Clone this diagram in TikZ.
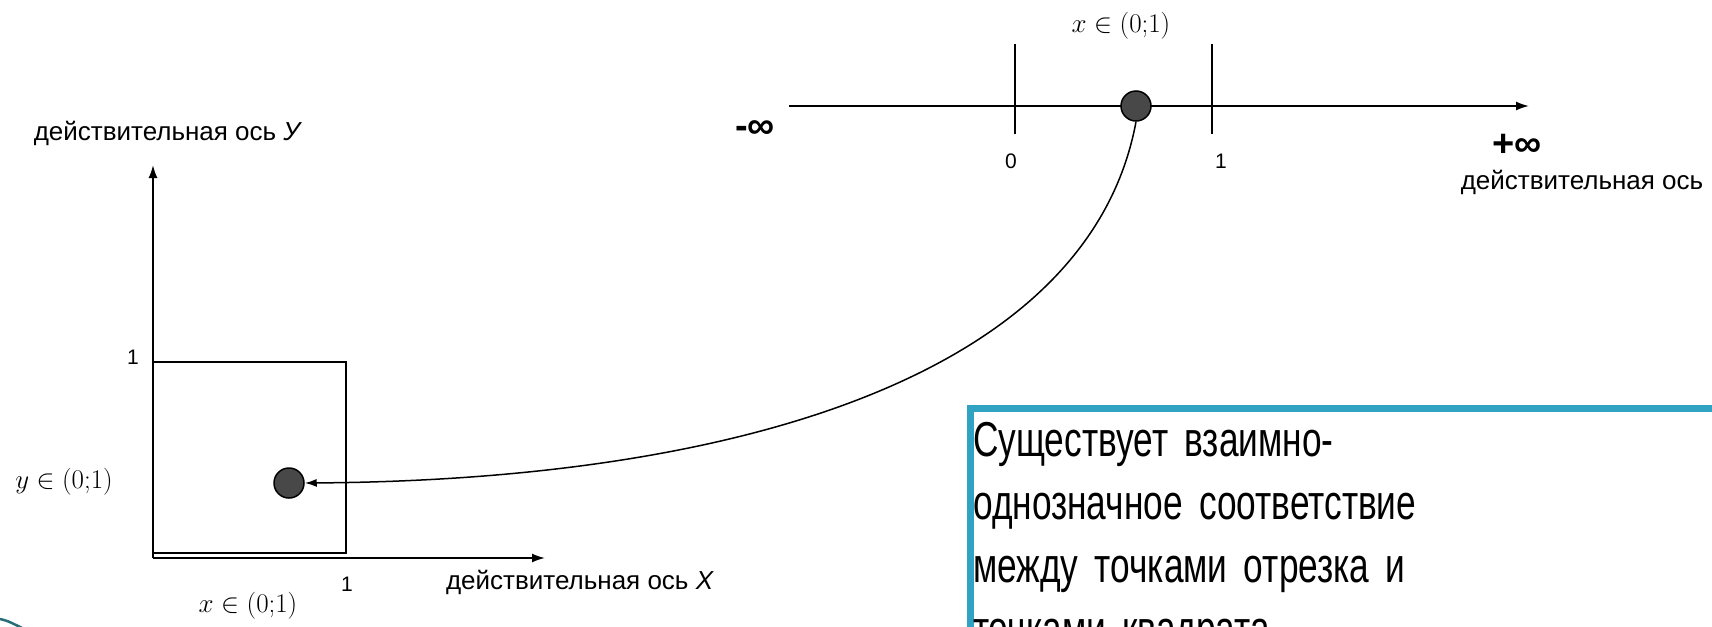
\RequirePackage{fix-cm}
\documentclass[tikz,border=0pt]{standalone}
\usepackage[no-math]{fontspec}
\setsansfont{Liberation Sans}
\newfontfamily\claimfont[FakeStretch=0.72]{Liberation Sans}
\usetikzlibrary{arrows.meta}
\definecolor{boxteal}{RGB}{47,163,193}
\definecolor{dotgray}{RGB}{72,72,72}
\definecolor{edgeteal}{RGB}{40,110,120}

\begin{document}
\begin{tikzpicture}[x=1pt, y=-1pt, font=\sffamily,
  axisarr/.style={line width=1.8pt, -{Latex[length=13pt,width=9pt]}},
  tickline/.style={line width=1.8pt},
  pointdot/.style={draw, circle, line width=1.5pt, fill=dotgray, minimum size=30pt, inner sep=0pt},
  lbl/.style={inner sep=0pt, font=\sffamily\fontsize{26}{30}\selectfont},
  numlbl/.style={inner sep=0pt, font=\sffamily\fontsize{21}{24}\selectfont},
  mlbl/.style={inner sep=0pt, font=\fontsize{27}{30}\selectfont},
  inflbl/.style={inner sep=0pt, font=\sffamily\bfseries\fontsize{38}{40}\selectfont}]
  \useasboundingbox (0,0) rectangle (1712,626);
  \clip (0,0) rectangle (1712,626);

  % Axes
  \coordinate (orig) at (153,558);
  \coordinate (yend) at (153,165);
  \coordinate (xend) at (545,558);
  \coordinate (lstart) at (789,106);
  \coordinate (lend) at (1529,106);
  \draw[axisarr] (orig) -- (yend);
  \draw[axisarr] (orig) -- (xend);
  \draw[axisarr] (lstart) -- (lend);
  \draw[tickline] (1015,44) -- (1015,134);
  \draw[tickline] (1212,44) -- (1212,134);
  \draw[tickline] (153,362) rectangle (346,553);

  % Nodes
  \node[pointdot] (dotline) at (1136,106) {};
  \node[pointdot] (dotsq) at (289,483) {};
  \node[lbl] (ylbl) at (168,133) {действительная ось \textit{У}};
  \node[lbl] (xlbl) at (580,582) {действительная ось \textit{X}};
  \node[lbl] (rlbl) at (1582,182) {действительная ось};
  \node[numlbl] (oney) at (133,357) {1};
  \node[numlbl] (onex) at (347,584) {1};
  \node[numlbl] (zero) at (1011,161) {0};
  \node[numlbl] (one) at (1221,161) {1};
  \node[mlbl] (xtop) at (1121,26) {$x \in (0{;}1)$};
  \node[mlbl] (xbot) at (248,606) {$x \in (0{;}1)$};
  \node[mlbl] (ybot) at (64,482) {$y \in (0{;}1)$};
  \node[inflbl] (minf) at (755,130) {-∞};
  \node[inflbl] (pinf) at (1517,145) {+∞};

  % Text box
  \draw[boxteal, line width=7pt] (970,408) rectangle (1760,720);
  \node[anchor=north west, inner sep=0pt, text width=800pt, align=left,
    font=\claimfont\fontsize{49}{63}\selectfont] (claim) at (973,422)
    {Существует взаимно-\\однозначное соответствие\\между точками отрезка и\\точками квадрата};

  % Edges
  \draw[line width=1.5pt, -{Latex[length=12pt,width=8pt]}] (dotline.south)
    .. controls (1090,370) and (750,480) .. (dotsq.east);
  \draw[edgeteal, line width=2.5pt] (0,619) .. controls (8,621) .. (22,628);
\end{tikzpicture}
\end{document}
